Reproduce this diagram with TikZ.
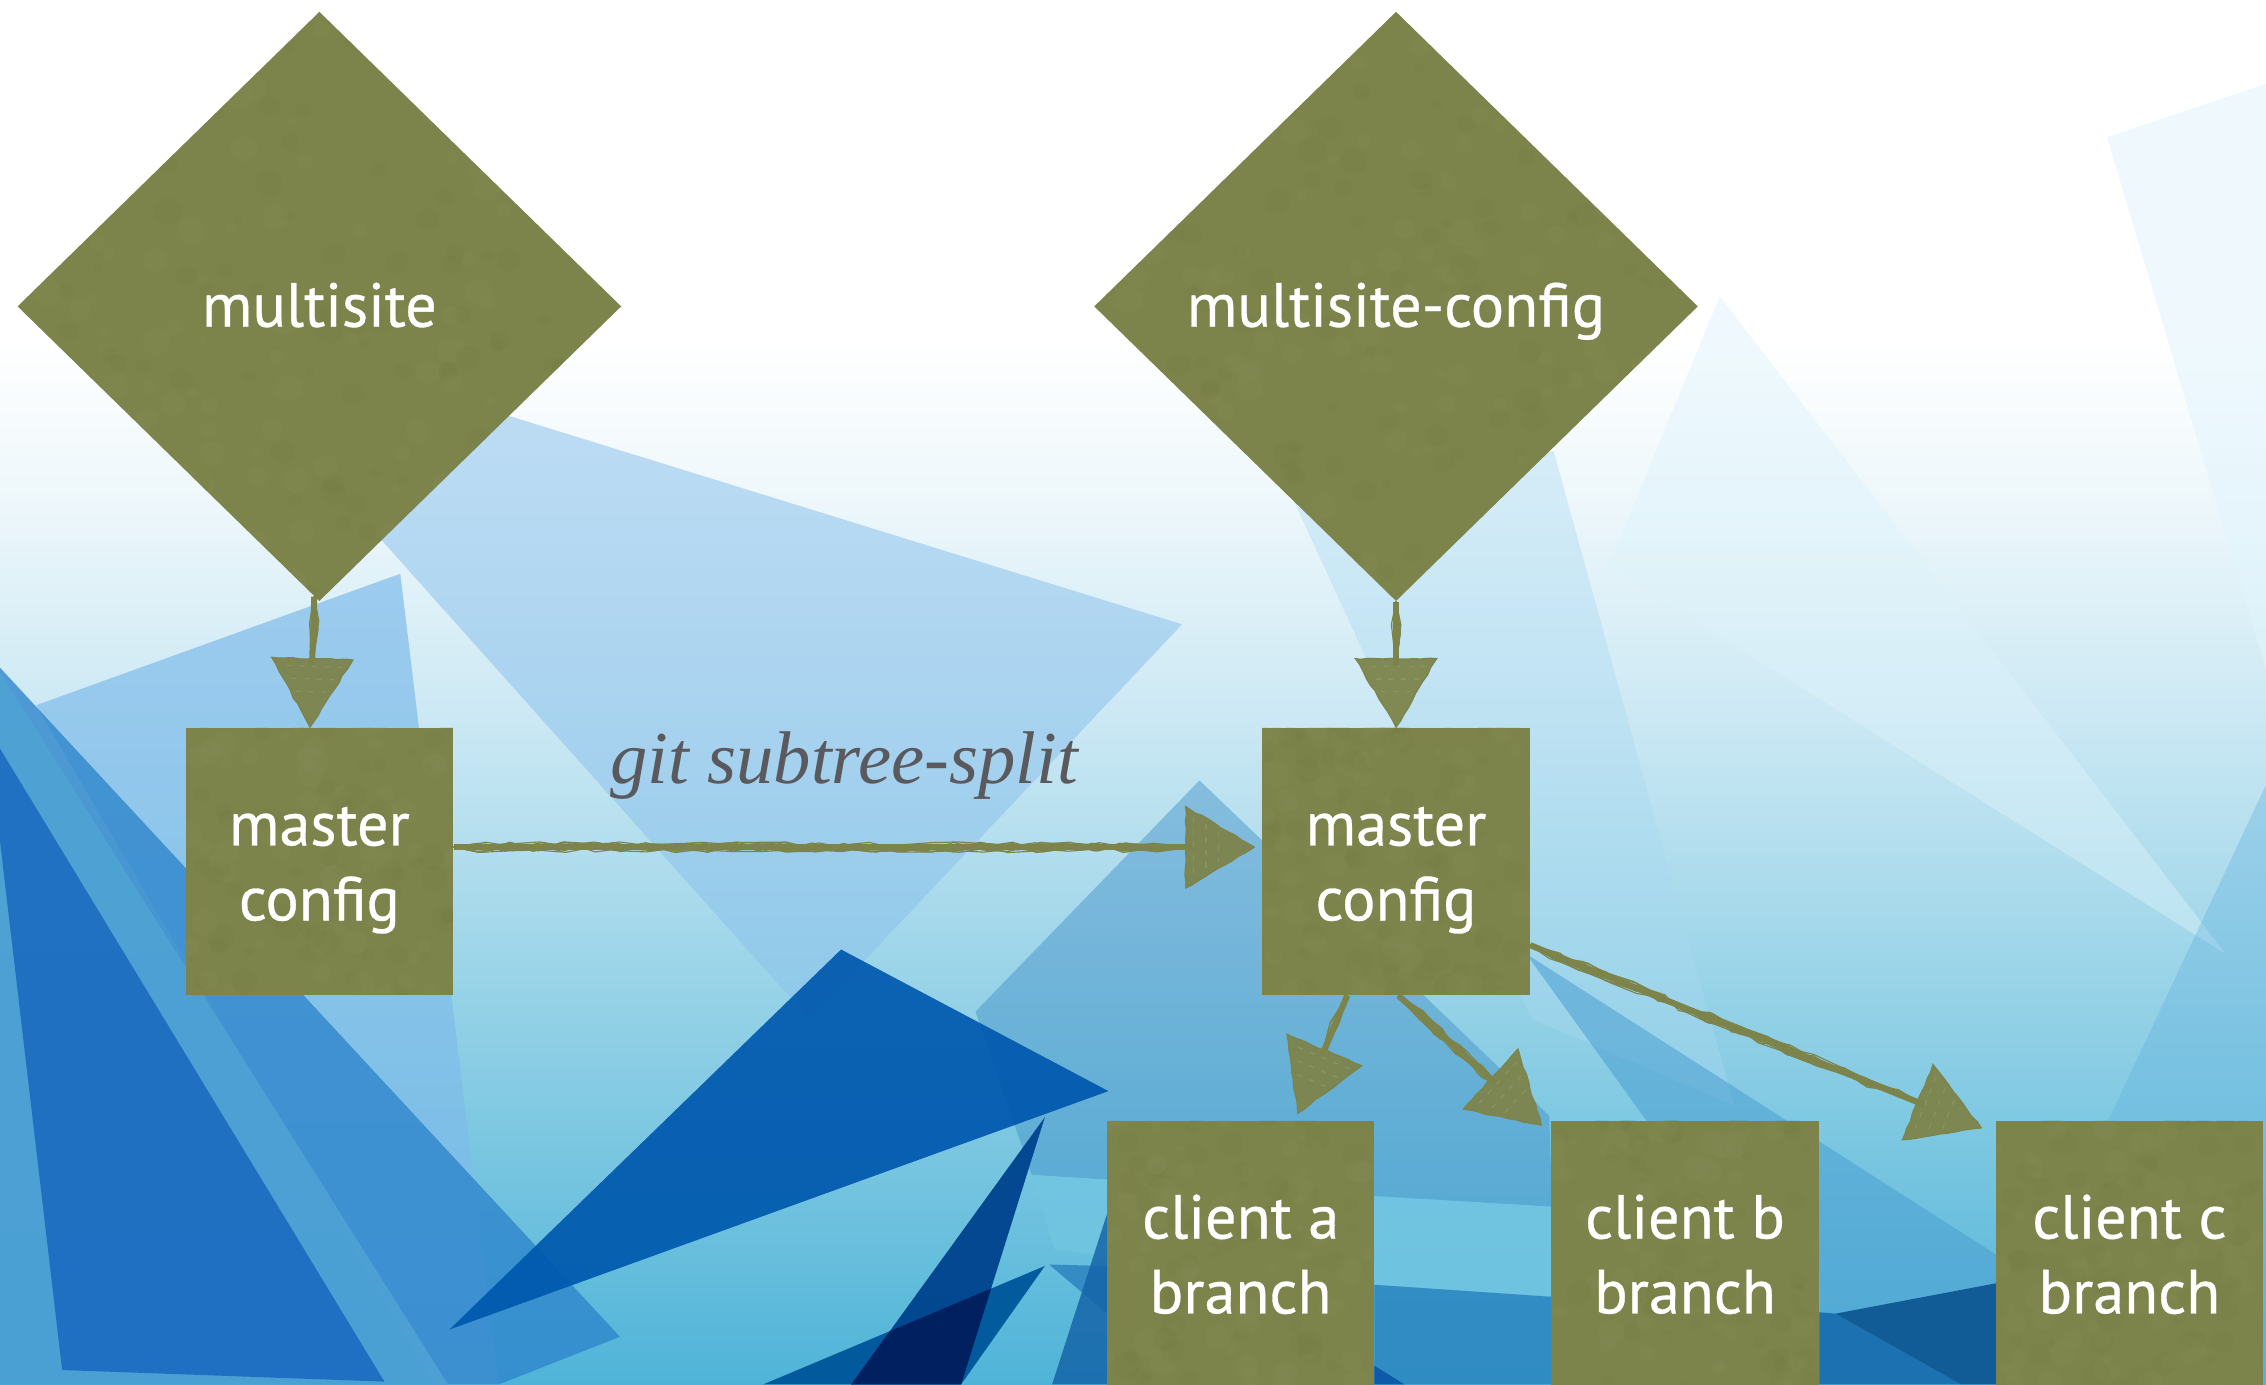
\documentclass[tikz,border=0pt]{standalone}
\usepackage{fontspec}
\usetikzlibrary{shapes.geometric,calc,decorations.pathmorphing}
\setmainfont{PT Sans}
\newfontfamily\boxfont[FakeBold=0.5]{PT Sans}
\newfontfamily\labelfont{Liberation Serif}
\definecolor{sk}{HTML}{7D844B}
\definecolor{skdark}{HTML}{6F763F}
\definecolor{sklight}{HTML}{8C9360}
\definecolor{lab}{HTML}{5A5A5E}
\definecolor{sbot}{HTML}{4FB4D8}
\definecolor{s27}{HTML}{93D1E6}
\definecolor{s48}{HTML}{CBE8F4}
\definecolor{s63}{HTML}{EDF7FB}
\pgfdeclareverticalshading{bggrad}{100bp}{color(0bp)=(sbot); color(25bp)=(sbot); color(38.5bp)=(s27); color(49bp)=(s48); color(56.75bp)=(s63); color(62.75bp)=(white); color(100bp)=(white)}
\newcommand\dn{\rule{0pt}{23pt}}
\newcommand\dd{\rule[-6pt]{0pt}{6pt}}
\tikzset{
 x=0.02cm,y=-0.02cm,
 paper/.style={path picture={
   \foreach \k in {1,...,260}{
     \pgfmathsetmacro\px{rnd}\pgfmathsetmacro\py{rnd}\pgfmathsetmacro\pr{1.5+rnd*4}
     \ifodd\k\relax\def\pc{skdark}\else\def\pc{sklight}\fi
     \fill[\pc,opacity=.12] ($(path picture bounding box.south west)!\px!(path picture bounding box.south east)+(0pt,\py*240pt)$) circle (\pr pt);
   }}},
 boxn/.style={paper,fill=sk,text=white,minimum width=3.7cm,minimum height=3.7cm,inner sep=0pt,align=center,font=\boxfont\fontsize{24.5}{29.5}\selectfont},
 dian/.style={paper,diamond,aspect=1,fill=sk,text=white,minimum width=8.36cm,minimum height=8.16cm,inner sep=0pt,text height=22pt,text depth=6pt,font=\boxfont\fontsize{24.5}{29.5}\selectfont},
 shaftcore/.style={draw=sk,line width=2.4pt},
 shaftstroke/.style={draw=sk,line width=.45pt,decorate,decoration={random steps,segment length=11pt,amplitude=2.1pt}},
 headfill/.style={fill=sk,fill opacity=.95,draw=sk,line width=.5pt,decorate,decoration={random steps,segment length=3pt,amplitude=.3pt}},
 headspeck/.style={draw=sklight,line width=.5pt,dash pattern=on 2pt off 3pt},
 lt/.style={/utils/exec={\definecolor{ltc}{HTML}{#1}},fill=ltc,draw=none},
}
\newcommand\skarrow[3]{%
 \path (#1) coordinate (skA) ($(#2)!#3!(#1)$) coordinate (skB) ($(skB)!24pt!(skA)$) coordinate (skC);
 \path let \p1=($(skB)-(skA)$),\n1={atan2(\y1,\x1)} in \pgfextra{\xdef\skang{\n1}};
 \draw[shaftcore] (skA) -- (skC);
 \foreach \j in {1,...,14}{\draw[shaftstroke] (skA) -- (skC);}
 \draw[headfill,shift={(skB)},rotate=\skang] (0pt,0pt) -- (-27pt,16pt) -- (-27pt,-16pt) -- cycle;
 \foreach \q/\w in {-24/12,-19/9,-14/6}{\draw[headspeck,shift={(skB)},rotate=\skang] (\q pt,\w pt) -- (\q pt,-\w pt);}
}
\begin{document}
\begin{tikzpicture}
\pgfmathsetseed{7}
\useasboundingbox (0,0) rectangle (1568,958);
\begin{scope}
\clip (0,0) rectangle (1568,958);
\shade[shading=bggrad] (0,0) rectangle (1568,958);
% pale right-hand sheets
\fill[lt=E2F5FD,opacity=.55] (1458,95) -- (1568,58) -- (1568,463) -- cycle;
\fill[lt=DDF3FB,opacity=.45] (1190,205) -- (1540,660) -- (1113,392) -- cycle;
\fill[lt=A9D9F1,opacity=.4] (1075,312) -- (1200,765) -- (1060,705) -- (895,346) -- cycle;
\fill[lt=5FB0DE,opacity=.35] (1568,543) -- (1568,958) -- (1459,775) -- cycle;
% darker mid sheets
\fill[lt=3F8FC8,opacity=.45] (830,540) -- (1072,772) -- (1074,835) -- (951,828) -- (714,813) -- (675,700) -- cycle;
\fill[lt=4A9FD2,opacity=.55] (1056,660) -- (1381,868) -- (1381,958) -- (1259,958) -- (1259,890) -- (1139,775) -- cycle;
\fill[lt=72C6E2,opacity=.75] (714,813) -- (1074,835) -- (1259,880) -- (1259,910) -- (1074,897) -- (951,889) -- (730,865) -- cycle;
\fill[lt=2A85C0,opacity=.85] (951,889) -- (1259,910) -- (1259,958) -- (951,958) -- cycle;
\fill[lt=0D5AA8] (951,945) -- (972,958) -- (951,958) -- cycle;
% upper-left sheets
\fill[lt=8CC2EC,opacity=.55] (340,284) -- (818,432) -- (560,705) -- (250,358) -- cycle;
\fill[lt=7FBCEA,opacity=.7] (25,488) -- (277,397) -- (345,958) -- (300,958) -- cycle;
\fill[lt=2F86CC,opacity=.8] (0,462) -- (429,925) -- (345,958) -- (0,958) -- cycle;
\fill[lt=4FA3D4,opacity=.85] (0,465) -- (310,958) -- (0,958) -- cycle;
\fill[lt=1565BE,opacity=.8] (0,518) -- (266,956) -- (43,948) -- (0,582) -- cycle;
% dark triangles
\fill[lt=0058AE,opacity=.92] (582,657) -- (767,755) -- (311,920) -- cycle;
\fill[lt=00589C,opacity=.97] (723,876) -- (528,958) -- (665,958) -- cycle;
\fill[lt=00458F,opacity=.97] (723,773) -- (589,958) -- (665,958) -- cycle;
\begin{scope}
\clip (723,876) -- (528,958) -- (665,958) -- cycle;
\fill[lt=002060] (723,773) -- (589,958) -- (665,958) -- cycle;
\end{scope}
\fill[lt=2D84C0,opacity=.85] (726,875) -- (766,876) -- (766,909) -- cycle;
\fill[lt=1565A8,opacity=.85] (766,840) -- (766,958) -- (728,958) -- cycle;
\fill[lt=1C72B0] (1259,908) -- (1270,909) -- (1357,958) -- (1259,958) -- cycle;
\fill[lt=115C97] (1270,909) -- (1381,888) -- (1381,958) -- (1357,958) -- cycle;
\end{scope}
\node[dian] (d1) at (221,212) {multisite};
\node[dian] (d2) at (966,212) {multisite-config};
\node[boxn] (m1) at (221,596) {\dn master\\config\dd};
\node[boxn] (m2) at (966,596) {\dn master\\config\dd};
\node[boxn] (a) at (858.5,868) {\dn client a\\branch\dd};
\node[boxn] (b) at (1166,868) {\dn client b\\branch\dd};
\node[boxn] (c) at (1473.5,868) {\dn client c\\branch\dd};
\node[text=lab,font=\labelfont\itshape\fontsize{29.4}{31}\selectfont,inner sep=0pt] (lbl) at (584,530) {git subtree-split};
\skarrow{d1.-91}{m1.94}{0pt}
\skarrow{d2.-90}{m2.90}{0pt}
\skarrow{m1.6}{m2.174}{3pt}
\skarrow{m2.-110}{a.68}{3pt}
\skarrow{m2.-89}{b.138}{5pt}
\skarrow{m2.-32}{c.138}{6pt}
\end{tikzpicture}
\end{document}
